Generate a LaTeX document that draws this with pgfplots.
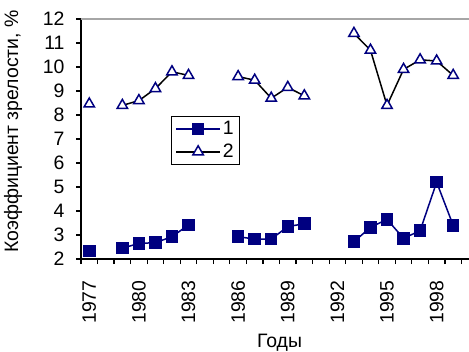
\documentclass[border=0pt]{standalone}
\usepackage{pgfplots}
\pgfplotsset{compat=1.18}
\usepackage{fontspec}
\setmainfont{Liberation Sans}
\definecolor{navyc}{RGB}{0,0,128}
\begin{document}
\begin{tikzpicture}
\begin{axis}[
  at={(0,0)}, anchor=south west,
  scale only axis,
  width=397bp, height=240bp,
  xmin=1976.5, xmax=2000.5,
  ymin=2, ymax=12,
  ytick={2,3,...,12},
  xtick={1976.5,1977.5,...,2000.5},
  xticklabels={},
  extra x ticks={1977,1980,1983,1986,1989,1992,1995,1998},
  extra x tick style={tick style={draw=none}},
  /pgf/number format/assume math mode=true,
  /pgf/number format/set thousands separator={},
  axis x line*=bottom, axis y line*=left,
  axis line style={line width=1.5bp, black, -},
  tick align=outside,
  major tick length=5bp,
  tick style={line width=1.2bp, black},
  tick label style={font=\fontsize{19.5}{22}\selectfont},
  xticklabel style={rotate=90, anchor=east, xshift=-13bp},
  yticklabel style={xshift=-8bp},
  ylabel={Коэффициент зрелости, \%},
  xlabel={Годы},
  every axis y label/.style={at={(axis description cs:0,0.531)}, xshift=-68bp, rotate=90, anchor=center, font=\fontsize{19.5}{22}\selectfont},
  every axis x label/.style={at={(axis description cs:0.5,0)}, yshift=-84bp, anchor=center, font=\fontsize{19.5}{22}\selectfont},
  unbounded coords=jump,
  legend style={at={(axis description cs:0.2267,0.5958)}, anchor=north west,
    draw=black, line width=0.8bp, font=\fontsize{19.5}{22}\selectfont,
    row sep=4bp, inner xsep=4bp, inner ysep=3bp},
  legend cell align=left,
  legend image code/.code={\draw[mark repeat=2,mark phase=2] plot coordinates {(0bp,0bp) (22bp,0bp) (44bp,0bp)};},
  clip=false,
]
\draw[gray!70, line width=1.6bp] (rel axis cs:0,1) -- (rel axis cs:1,1);
\addplot[navyc, line width=1.5bp, mark=square*, mark size=5.5bp, mark options={fill=navyc, draw=navyc, solid}]
  coordinates {(1977,2.33) (1978,nan) (1979,2.45) (1980,2.65) (1981,2.68) (1982,2.93) (1983,3.42)
  (1984,nan) (1985,nan) (1986,2.93) (1987,2.83) (1988,2.83) (1989,3.35) (1990,3.47)
  (1991,nan) (1992,nan) (1993,2.72) (1994,3.32) (1995,3.65) (1996,2.86) (1997,3.18) (1998,5.2) (1999,3.4)};
\addlegendentry{1}
\addplot[black, line width=1.5bp, mark=triangle*, mark size=6bp, mark options={fill=white, draw=navyc, line width=1.5bp, solid}]
  coordinates {(1977,8.46) (1978,nan) (1979,8.4) (1980,8.6) (1981,9.1) (1982,9.8) (1983,9.65)
  (1984,nan) (1985,nan) (1986,9.6) (1987,9.45) (1988,8.7) (1989,9.15) (1990,8.8)
  (1991,nan) (1992,nan) (1993,11.4) (1994,10.7) (1995,8.4) (1996,9.9) (1997,10.3) (1998,10.25) (1999,9.65)};
\addlegendentry{2}
\end{axis}
\pgfresetboundingbox
\path[use as bounding box] (-81bp,-93bp) rectangle (388bp,259bp);
\end{tikzpicture}
\end{document}
